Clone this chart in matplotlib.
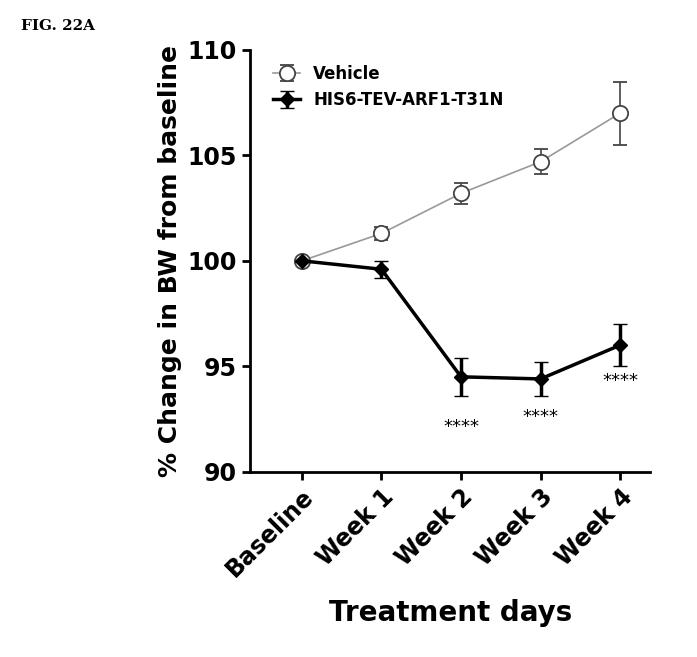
import matplotlib
matplotlib.use("Agg")
import matplotlib.pyplot as plt

# data
days = ["Baseline", "Week 1", "Week 2", "Week 3", "Week 4"]
vehicle = [100.0, 101.3, 103.2, 104.7, 107.0]
vehicle_err = [0.0, 0.3, 0.5, 0.6, 1.5]
arf1 = [100.0, 99.6, 94.5, 94.4, 96.0]
arf1_err = [0.0, 0.4, 0.9, 0.8, 1.0]
star_y = [None, None, 92.1, 92.6, 94.3]

fig = plt.figure(figsize=(6.97, 6.57), dpi=100)
ax = fig.add_axes([0.359, 0.282, 0.574, 0.642])
x = list(range(len(days)))

ax.errorbar(x, vehicle, yerr=vehicle_err, color="#999999", lw=1.2, marker="o",
            ms=11, mfc="white", mec="#444444", mew=1.3, ecolor="#444444",
            capsize=5, label="Vehicle", zorder=2)
ax.errorbar(x, arf1, yerr=arf1_err, color="black", lw=2.5, marker="D",
            ms=7, mfc="black", mec="black", ecolor="black",
            capsize=5, label="HIS6-TEV-ARF1-T31N", zorder=3)

for xi, yi in zip(x, star_y):
    if yi is not None:
        ax.text(xi, yi, "****", ha="center", va="center", fontsize=13)

ax.set_xlim(-0.65, 4.38)
ax.set_ylim(90, 110)
ax.set_yticks([90, 95, 100, 105, 110])
ax.set_xticks(x)
ax.set_xticklabels(days, rotation=45, ha="right", rotation_mode="anchor",
                   fontsize=17, fontweight="bold")
for t in ax.get_yticklabels():
    t.set_fontsize(17)
    t.set_fontweight("bold")
ax.spines["top"].set_visible(False)
ax.spines["right"].set_visible(False)
ax.spines["left"].set_linewidth(2)
ax.spines["bottom"].set_linewidth(2)
ax.tick_params(width=2, length=6)

ax.set_ylabel("% Change in BW from baseline", fontsize=18, fontweight="bold")
ax.set_xlabel("Treatment days", fontsize=20, fontweight="bold", labelpad=12)

ax.legend(loc="upper left", frameon=False, fontsize=12,
          prop={"weight": "bold", "size": 12}, handlelength=1.6,
          bbox_to_anchor=(0.02, 1.0))

fig.text(0.03, 0.955, "FIG. 22A", fontsize=11, fontweight="bold", family="serif")

fig.savefig("out.png", dpi=100)
